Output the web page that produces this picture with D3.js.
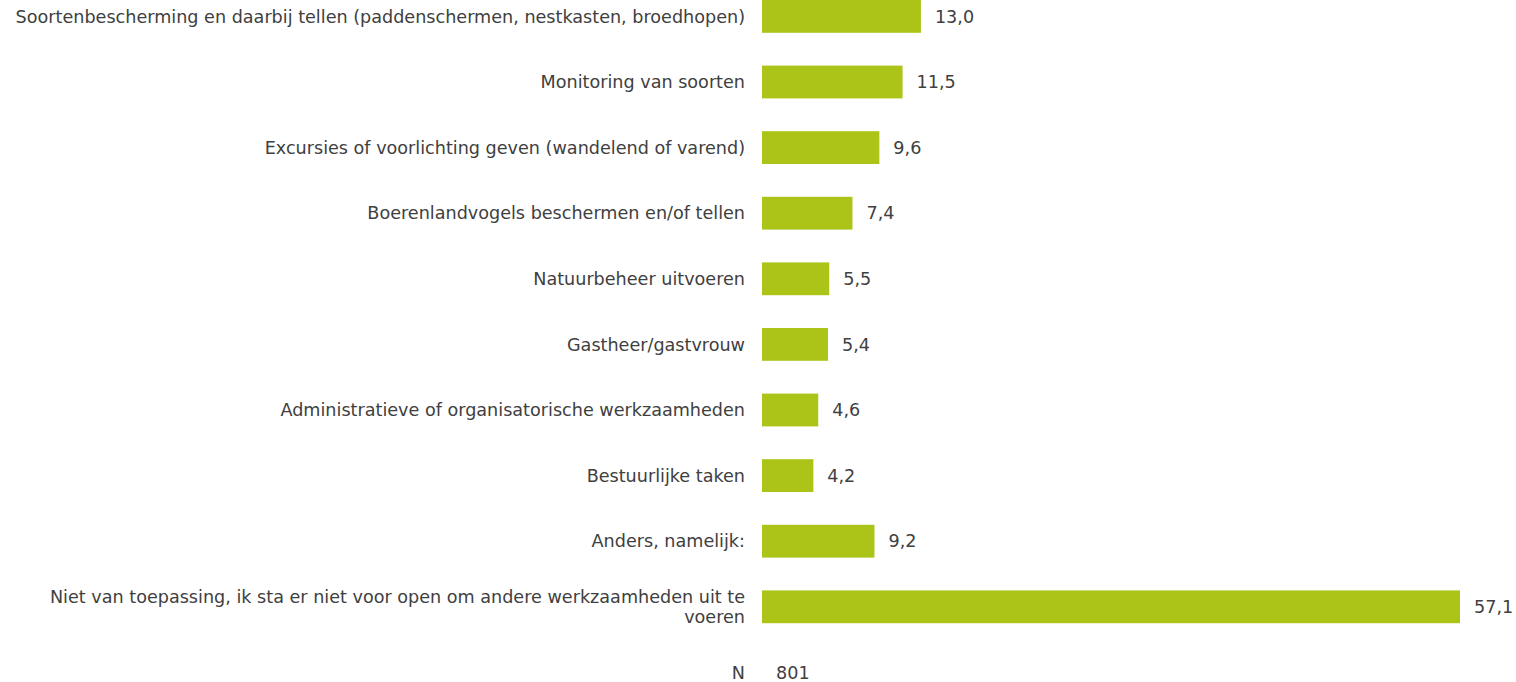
<!DOCTYPE html>
<html>
<head>
<meta charset="utf-8">
<script src="https://cdn.jsdelivr.net/npm/d3@7"></script>
<style>
  body { margin: 0; background: #fff; }
  svg text { font-family: "DejaVu Sans", Verdana, sans-serif; fill: #404040; }
</style>
</head>
<body>
<div id="chart"></div>
<script>
// labels, one entry per row ("\n" marks a line break in the label)
var categories = [
	"Soortenbescherming en daarbij tellen (paddenschermen, nestkasten, broedhopen)",
	"Monitoring van soorten",
	"Excursies of voorlichting geven (wandelend of varend)",
	"Boerenlandvogels beschermen en/of tellen",
	"Natuurbeheer uitvoeren",
	"Gastheer/gastvrouw",
	"Administratieve of organisatorische werkzaamheden",
	"Bestuurlijke taken",
	"Anders, namelijk:",
	"Niet van toepassing, ik sta er niet voor open om andere werkzaamheden uit te\nvoeren"
]
var values = [13.0, 11.5, 9.6, 7.4, 5.5, 5.4, 4.6, 4.2, 9.2, 57.1]
var nLabel = "N"
var nValue = 801

var width = 1516, height = 682
var barLeft = 762, barRight = 1460
var barColor = "#abc417"
var fontSize = 17.6

var locale = d3.formatLocale({ decimal: ",", thousands: ".", grouping: [3], currency: ["€", ""] })
var fmt = locale.format(".1f")

var svg = d3.select("#chart").append("svg")
	.attr("width", width)
	.attr("height", height)

var rows = categories.concat([nLabel])

var x = d3.scaleLinear()
	.domain([0, d3.max(values)])
	.range([barLeft, barRight])

var y = d3.scaleBand()
	.domain(rows)
	.range([-16.4, 705.2])
	.paddingInner(0.5)
	.paddingOuter(0.25)

var data = categories.map(function(c, i) { return { cat: c, value: values[i] } })

// bars
svg.selectAll("rect.bar")
	.data(data)
	.enter()
	.append("rect")
		.attr("class", "bar")
		.attr("x", x(0))
		.attr("y", function(d) { return y(d.cat) })
		.attr("width", function(d) { return x(d.value) - x(0) })
		.attr("height", y.bandwidth())
		.style("fill", barColor)

// value labels
svg.selectAll("text.value")
	.data(data)
	.enter()
	.append("text")
		.attr("class", "value")
		.attr("x", function(d) { return x(d.value) + 14 })
		.attr("y", function(d) { return y(d.cat) + y.bandwidth() / 2 })
		.attr("dy", "0.35em")
		.style("font-size", fontSize + "px")
		.text(function(d) { return fmt(d.value) })

// category labels, right aligned against the bars
var lineHeight = 20
svg.selectAll("text.cat")
	.data(rows)
	.enter()
	.append("text")
		.attr("class", "cat")
		.attr("text-anchor", "end")
		.style("font-size", fontSize + "px")
		.each(function(d) {
			var lines = d.split("\n")
			var cy = y(d) + y.bandwidth() / 2
			var top = cy - (lines.length - 1) * lineHeight / 2
			var t = d3.select(this)
			lines.forEach(function(l, i) {
				t.append("tspan")
					.attr("x", barLeft - 17)
					.attr("y", top + i * lineHeight)
					.attr("dy", "0.35em")
					.text(l)
			})
		})

// N value
svg.append("text")
	.attr("x", barLeft + 14)
	.attr("y", y(nLabel) + y.bandwidth() / 2)
	.attr("dy", "0.35em")
	.style("font-size", fontSize + "px")
	.text(nValue)
</script>
</body>
</html>
